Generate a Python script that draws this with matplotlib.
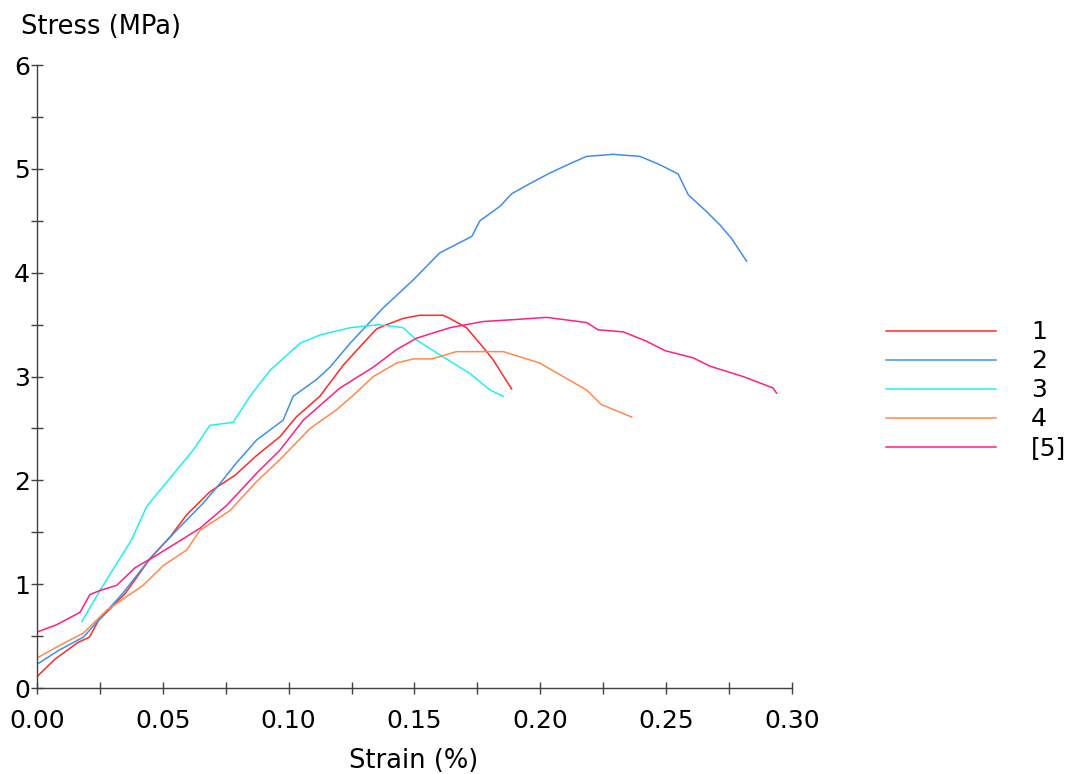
import matplotlib
matplotlib.use('Agg')
import matplotlib.pyplot as plt
from matplotlib.ticker import MultipleLocator

# specimen curves, strain (%) vs stress (MPa)
strain1 = [0.0, 0.0072, 0.0163, 0.0208, 0.0244, 0.035, 0.045, 0.053, 0.0595, 0.0687,
           0.0787, 0.0873, 0.0965, 0.103, 0.1124, 0.1217, 0.1296, 0.135, 0.139, 0.1455,
           0.152, 0.1614, 0.164, 0.1707, 0.177, 0.1813, 0.1886]
stress1 = [0.11, 0.28, 0.44, 0.49, 0.65, 0.91, 1.25, 1.46, 1.67, 1.89,
           2.05, 2.24, 2.42, 2.61, 2.81, 3.11, 3.32, 3.46, 3.50, 3.56,
           3.59, 3.59, 3.56, 3.47, 3.29, 3.16, 2.88]

strain2 = [0.0, 0.0091, 0.0184, 0.025, 0.034, 0.045, 0.0555, 0.066, 0.0727, 0.0793,
           0.0873, 0.0978, 0.1018, 0.111, 0.1164, 0.1244, 0.1375, 0.1495, 0.160, 0.1728,
           0.176, 0.184, 0.1886, 0.196, 0.2038, 0.2118, 0.2184, 0.229, 0.2396, 0.2475,
           0.2548, 0.2588, 0.266, 0.2714, 0.276, 0.282]
stress2 = [0.23, 0.37, 0.49, 0.67, 0.91, 1.25, 1.52, 1.78, 1.97, 2.17,
           2.39, 2.58, 2.81, 2.97, 3.09, 3.32, 3.66, 3.93, 4.19, 4.35,
           4.50, 4.64, 4.76, 4.86, 4.96, 5.05, 5.12, 5.14, 5.12, 5.04,
           4.95, 4.75, 4.59, 4.46, 4.33, 4.11]

strain3 = [0.0178, 0.025, 0.0317, 0.0376, 0.0436, 0.0528, 0.062, 0.0687, 0.078, 0.0846,
           0.0926, 0.1045, 0.1124, 0.1244, 0.136, 0.1455, 0.1509, 0.160, 0.172, 0.18,
           0.1853]
stress3 = [0.64, 0.94, 1.20, 1.43, 1.75, 2.02, 2.29, 2.53, 2.56, 2.81,
           3.06, 3.32, 3.40, 3.47, 3.50, 3.47, 3.35, 3.21, 3.03, 2.87,
           2.81]

strain4 = [0.0, 0.0105, 0.0184, 0.0277, 0.0422, 0.0502, 0.0595, 0.0648, 0.0767, 0.0873,
           0.0965, 0.1085, 0.119, 0.1257, 0.1336, 0.1429, 0.1495, 0.1568, 0.1667, 0.1853,
           0.1998, 0.2184, 0.2243, 0.2363]
stress4 = [0.29, 0.43, 0.53, 0.75, 0.99, 1.18, 1.33, 1.52, 1.71, 1.99,
           2.20, 2.50, 2.68, 2.82, 3.00, 3.13, 3.17, 3.17, 3.24, 3.24,
           3.13, 2.87, 2.73, 2.61]

strain5 = [0.0, 0.0078, 0.0171, 0.021, 0.025, 0.0317, 0.039, 0.0462, 0.0542, 0.0648,
           0.0754, 0.0873, 0.0965, 0.1058, 0.1204, 0.1336, 0.1429, 0.1509, 0.164, 0.1773,
           0.1906, 0.2025, 0.2184, 0.223, 0.233, 0.2422, 0.2495, 0.2608, 0.2674, 0.2806,
           0.2925, 0.2939]
stress5 = [0.54, 0.61, 0.73, 0.90, 0.94, 0.99, 1.16, 1.26, 1.38, 1.54,
           1.76, 2.07, 2.29, 2.58, 2.89, 3.09, 3.26, 3.37, 3.47, 3.53,
           3.55, 3.57, 3.52, 3.45, 3.43, 3.34, 3.25, 3.18, 3.10, 3.00,
           2.89, 2.84]

labels = ['1', '2', '3', '4', '[5]']
colors = ['#ff2a2a', '#3f8fe8', '#22f0f0', '#ff8a4c', '#ff2080']

fig = plt.figure(figsize=(10.67, 7.74), dpi=100)
ax = fig.add_axes([0.0347, 0.111, 0.7075, 0.805])

curves = [(strain1, stress1), (strain2, stress2), (strain3, stress3),
          (strain4, stress4), (strain5, stress5)]
for (x, y), lab, c in zip(curves, labels, colors):
    ax.plot(x, y, color=c, lw=1.1, label=lab)

ax.set_xlim(0, 0.30)
ax.set_ylim(0, 6)
ax.xaxis.set_major_locator(MultipleLocator(0.05))
ax.xaxis.set_minor_locator(MultipleLocator(0.025))
ax.yaxis.set_major_locator(MultipleLocator(1))
ax.yaxis.set_minor_locator(MultipleLocator(0.5))
ax.xaxis.set_major_formatter(plt.FormatStrFormatter('%.2f'))

for s in ['top', 'right']:
    ax.spines[s].set_visible(False)
for s in ['left', 'bottom']:
    ax.spines[s].set_color('#404040')
    ax.spines[s].set_linewidth(1.0)
ax.tick_params(which='both', direction='inout', length=8, width=1.0,
               color='#404040', labelsize=18)
ax.tick_params(axis='x', pad=11)
ax.tick_params(axis='y', pad=1)

fig.text(0.02, 0.965, 'Stress (MPa)', fontsize=18.5, va='center', ha='left')
fig.text(0.388, 0.0, 'Strain (%)', fontsize=18.5, va='bottom', ha='center')

ax.legend(loc='center left', bbox_to_anchor=(1.095, 0.478), frameon=False,
          fontsize=18, handlelength=4.4, handletextpad=1.4, labelspacing=0.2)

fig.savefig('out.png', dpi=100)
